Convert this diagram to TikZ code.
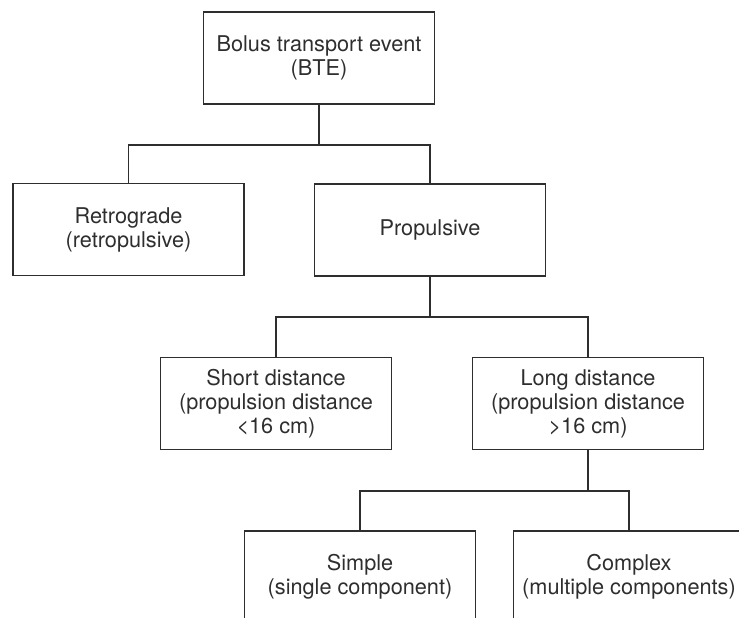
\documentclass[tikz,border=0pt]{standalone}
\usepackage{fontspec}
\setmainfont{TeX Gyre Heros}
\definecolor{ink}{HTML}{2E2E2E}
\begin{document}
\begin{tikzpicture}[x=1pt,y=-1pt,
  box/.style={draw=ink, line width=1.1pt, text=ink, align=center, inner sep=0pt,
    minimum width=231pt, minimum height=92pt,
    font=\fontsize{21.7}{24}\selectfont},
  conn/.style={draw=ink, line width=1.1pt}]
\useasboundingbox (0,0) rectangle (739,618);
\clip (0,0) rectangle (739,618);
\node[box] (bte) at (319,58) {Bolus transport event\\(BTE)};
\node[box] (retro) at (128.5,229.5) {Retrograde\\(retropulsive)};
\node[box] (prop) at (430,230) {Propulsive};
\node[box] (short) at (276,403.5) {Short distance\\(propulsion distance\\<16 cm)};
\node[box] (long) at (588,403.5) {Long distance\\(propulsion distance\\>16 cm)};
\node[box] (simple) at (360,577) {Simple\\(single component)};
\node[box] (complex) at (629,577) {Complex\\(multiple components)};
\coordinate (j1) at (319,145);
\coordinate (j2) at (430,317);
\coordinate (j3) at (588,491);
\draw[conn] (bte) -- (j1);
\draw[conn] (retro.north) |- (j1) -| (prop.north);
\draw[conn] (prop) -- (j2);
\draw[conn] (short.north) |- (j2) -| (long.north);
\draw[conn] (long) -- (j3);
\draw[conn] (simple.north) |- (j3) -| (complex.north);
\end{tikzpicture}
\end{document}
